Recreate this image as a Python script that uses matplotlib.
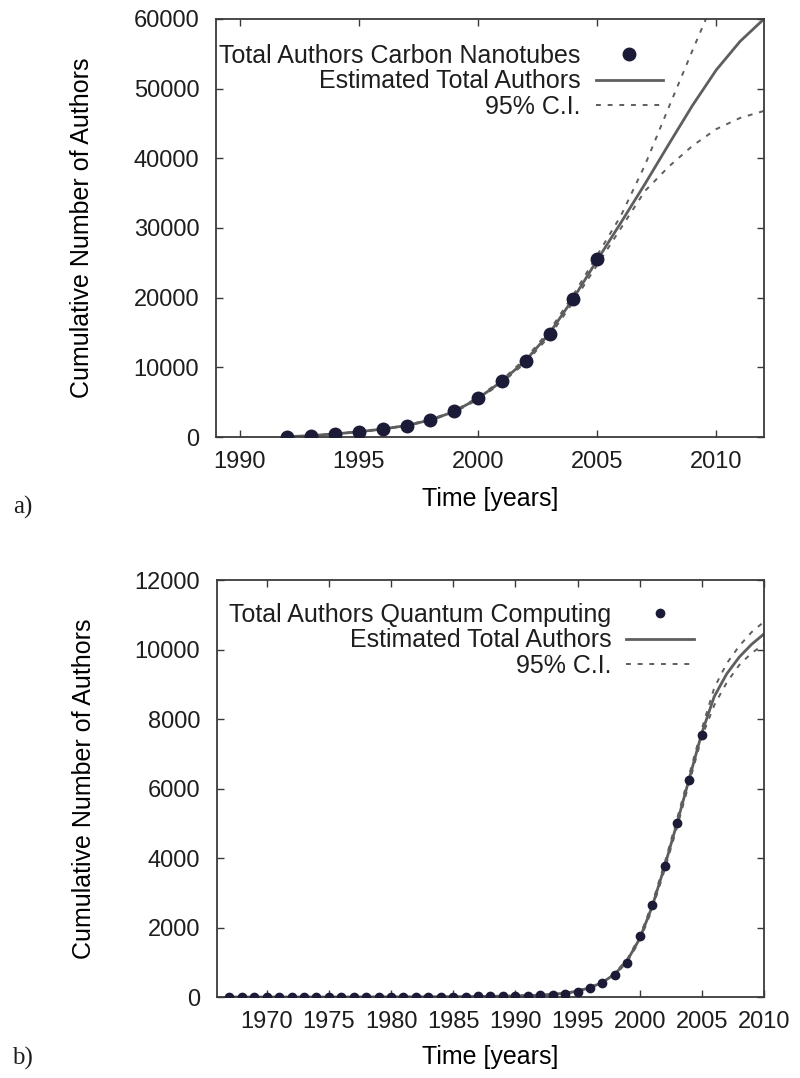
import matplotlib
matplotlib.use("Agg")
import matplotlib.pyplot as plt

# panel a) carbon nanotubes
years_a = list(range(1992, 2006))
authors_a = [0, 100, 470, 710, 1190, 1570, 2480, 3670, 5620, 8000,
             10950, 14760, 19860, 25530]

fit_years_a = list(range(1992, 2013))
fit_a = [50, 200, 450, 750, 1150, 1650, 2450, 3650, 5550, 8000, 11000,
         14900, 19900, 25400, 30800, 36300, 42000, 47600, 52700, 56800, 60000]
upper_years_a = list(range(1992, 2011))
upper_a = [60, 210, 470, 780, 1190, 1700, 2520, 3750, 5700, 8200, 11300,
           15300, 20400, 26100, 31800, 39000, 47300, 55500, 63500]
lower_a = [40, 190, 430, 720, 1110, 1600, 2380, 3550, 5400, 7800, 10700,
           14500, 19400, 24700, 30000, 35300, 38800, 41800, 44200, 45800, 46800]

# panel b) quantum computing
years_b = list(range(1967, 2006))
authors_b = [0, 0, 0, 0, 0, 0, 0, 0, 1, 1, 2, 2, 3, 4, 5, 6, 8, 10, 12,
             14, 17, 20, 25, 30, 40, 55, 70, 100, 150, 255, 390, 620, 990,
             1760, 2650, 3770, 5010, 6240, 7540]

fit_years_b = list(range(1967, 2011))
early_b = [0, 0, 0, 0, 0, 0, 1, 1, 1, 2, 2, 3, 3, 4, 5, 6, 8, 10, 12,
           14, 17, 21, 26]
fit_b = early_b + [33, 42, 55, 75, 110, 170, 270, 420, 660, 1050, 1680,
                   2600, 3750, 5000, 6300, 7600, 8650, 9300, 9780, 10150, 10450]
upper_b = early_b + [35, 45, 60, 80, 118, 180, 285, 440, 690, 1090, 1740,
                     2680, 3850, 5120, 6420, 7720, 8900, 9600, 10100, 10500, 10800]
lower_b = early_b + [31, 39, 50, 70, 102, 160, 255, 400, 630, 1010, 1620,
                     2520, 3650, 4880, 6180, 7480, 8400, 9050, 9550, 9900, 10150]

plt.rcParams["font.family"] = ["Liberation Sans", "DejaVu Sans"]
plt.rcParams["text.color"] = "#1e1e1e"

DOT = "#1b1b38"
LINE = "#5e5e5e"
AX = "#3a3a3a"
TICK_FS = 17
LAB_FS = 18

fig = plt.figure(figsize=(8, 10.78), dpi=100)
ax_a = fig.add_axes([0.27, 0.5946, 0.685, 0.3878])
ax_b = fig.add_axes([0.2712, 0.0751, 0.6838, 0.3868])


def style(ax):
    for s in ax.spines.values():
        s.set_color(AX)
        s.set_linewidth(1.3)
    ax.tick_params(direction="in", length=5, width=1, color=AX,
                   top=True, right=True, labelcolor="#1e1e1e", labelsize=TICK_FS)
    ax.tick_params(axis="y", pad=12)
    ax.tick_params(axis="x", pad=10)


def panel(ax, yrs, vals, fyrs, fit, uyrs, up, low, dotsize, label,
          xlim, xticks, ylim, yticks, leg_x, leg_y, xlab_y):
    ax.plot(fyrs, fit, color=LINE, lw=2, label="Estimated Total Authors", zorder=2)
    ax.plot(uyrs, up, color=LINE, lw=1.4, ls=(0, (2.5, 3.5)), zorder=2)
    ax.plot(fyrs, low, color=LINE, lw=1.4, ls=(0, (2.5, 3.5)), zorder=2,
            label="95% C.I.")
    ax.plot(yrs, vals, "o", color=DOT, ms=dotsize, mec=DOT, ls="none",
            label=label, zorder=3)
    ax.set_xlim(*xlim)
    ax.set_ylim(*ylim)
    ax.set_xticks(xticks)
    ax.set_yticks(yticks)
    ax.set_ylabel("Cumulative Number of Authors", fontsize=LAB_FS)
    ax.set_xlabel("Time [years]", fontsize=LAB_FS)
    ax.yaxis.set_label_coords(-0.222, 0.5)
    ax.xaxis.set_label_coords(0.5, xlab_y)
    h, lab = ax.get_legend_handles_labels()
    order = [2, 0, 1]
    ax.legend([h[i] for i in order], [lab[i] for i in order],
              loc="upper right", bbox_to_anchor=(leg_x, leg_y),
              frameon=False, markerfirst=False, borderpad=0,
              borderaxespad=0, labelspacing=0.05, handlelength=2.7,
              handletextpad=0.6, fontsize=LAB_FS)
    style(ax)


panel(ax_a, years_a, authors_a, fit_years_a, fit_a, upper_years_a, upper_a,
      lower_a, 9, "Total Authors Carbon Nanotubes", (1989, 2012),
      range(1990, 2011, 5), (0, 60000), range(0, 60001, 10000),
      0.816, 0.94, -0.12)
panel(ax_b, years_b, authors_b, fit_years_b, fit_b, fit_years_b, upper_b,
      lower_b, 6, "Total Authors Quantum Computing", (1966, 2010),
      range(1970, 2011, 5), (0, 12000), range(0, 12001, 2000),
      0.872, 0.945, -0.115)

fig.text(0.028, 1 - 507 / 1078, "a)", family="Liberation Serif",
         fontsize=18, ha="center", va="center")
fig.text(0.028, 1 - 1058 / 1078, "b)", family="Liberation Serif",
         fontsize=18, ha="center", va="center")

fig.savefig("out.png", dpi=100)
